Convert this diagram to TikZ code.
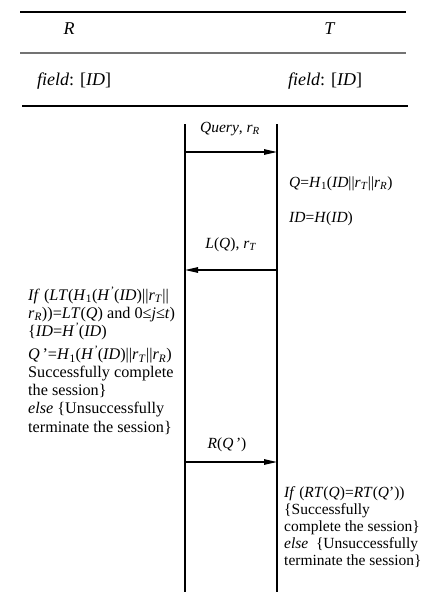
\documentclass[tikz,border=0pt]{standalone}
\usepackage{fontspec}
\setmainfont{Liberation Serif}
\usetikzlibrary{arrows.meta}
\newcommand{\myrT}{\textit{r}\textsubscript{\textit{T}}}
\newcommand{\myrR}{\textit{r}\textsubscript{\textit{R}}}
\newcommand{\myHone}{\textit{H}\textsubscript{1}}
\newcommand{\myHp}{\textit{H}\textsuperscript{\textit{'}}}
\newcommand{\cc}{\textbar\textbar}
\begin{document}
\begin{tikzpicture}[x=1pt,y=-1pt,font=\fontsize{15.5}{17}\selectfont,
  msg/.style={line width=1.2pt,-{Triangle[length=13pt,width=5.5pt]}},
  life/.style={line width=1.8pt},
  lbl/.style={inner sep=0pt,anchor=center},
  txt/.style={inner sep=0pt,anchor=base west,align=left}]
\useasboundingbox (0,0) rectangle (423,592);
% table rules
\draw[line width=1.4pt] (20,12) -- (406,12);
\draw[line width=2pt,black!55] (20,53) -- (406,53);
\draw[line width=2.6pt] (22,106) -- (408,106);
\node[lbl,font=\fontsize{18}{20}\selectfont] (R) at (69,29) {\textit{R}};
\node[lbl,font=\fontsize{18}{20}\selectfont] (T) at (330,29) {\textit{T}};
\node[txt,font=\fontsize{18}{20}\selectfont] (fR) at (37,85) {\textit{field}: [\textit{ID}]};
\node[txt,font=\fontsize{18}{20}\selectfont] (fT) at (288,85) {\textit{field}: [\textit{ID}]};
% lifelines
\coordinate (Ltop) at (185,124); \coordinate (Lbot) at (185,592);
\coordinate (Rtop) at (277,124); \coordinate (Rbot) at (277,592);
\draw[life] (Ltop) -- (Lbot);
\draw[life] (Rtop) -- (Rbot);
% messages
\coordinate (m1a) at (185,152); \coordinate (m1b) at (277,152);
\draw[msg] (m1a) -- (m1b);
\node[lbl] (l1) at (230,129) {\textit{Query}, \myrR};
\node[txt] (c1) at (289,187) {\textit{Q}=\myHone(\textit{ID}\cc\myrT\cc\myrR)};
\node[txt] (c2) at (289,222) {\textit{ID}=\textit{H}(\textit{ID})};
\coordinate (m2a) at (277,270); \coordinate (m2b) at (185,270);
\draw[msg] (m2a) -- (m2b);
\node[lbl] (l2) at (231,245) {\textit{L}(\textit{Q}), \myrT};
\node[txt,font=\fontsize{16.2}{18.1}\selectfont] (rblock) at (28,432) {%
\textit{If} (\textit{LT}(\myHone(\myHp(\textit{ID})\cc\myrT\cc\\
\myrR))=\textit{LT}(\textit{Q}) and 0≤\textit{j}≤\textit{t})\\
\{\textit{ID}=\myHp(\textit{ID})\\[5pt]
\textit{Q}\,’=\myHone(\myHp(\textit{ID})\cc\myrT\cc\myrR)\\
Successfully complete\\
the session\}\\
\textit{else} \{Unsuccessfully\\
terminate the session\}};
\coordinate (m3a) at (185,462); \coordinate (m3b) at (277,462);
\draw[msg] (m3a) -- (m3b);
\node[lbl] (l3) at (227,445) {\textit{R}(\textit{Q}\,’)};
\node[txt] (tblock) at (284,565) {%
\textit{If} (\textit{RT}(\textit{Q})=\textit{RT}(\textit{Q}’))\\
\{Successfully\\
complete the session\}\\
\textit{else}\ \ \{Unsuccessfully\\
terminate the session\}};
\end{tikzpicture}
\end{document}
